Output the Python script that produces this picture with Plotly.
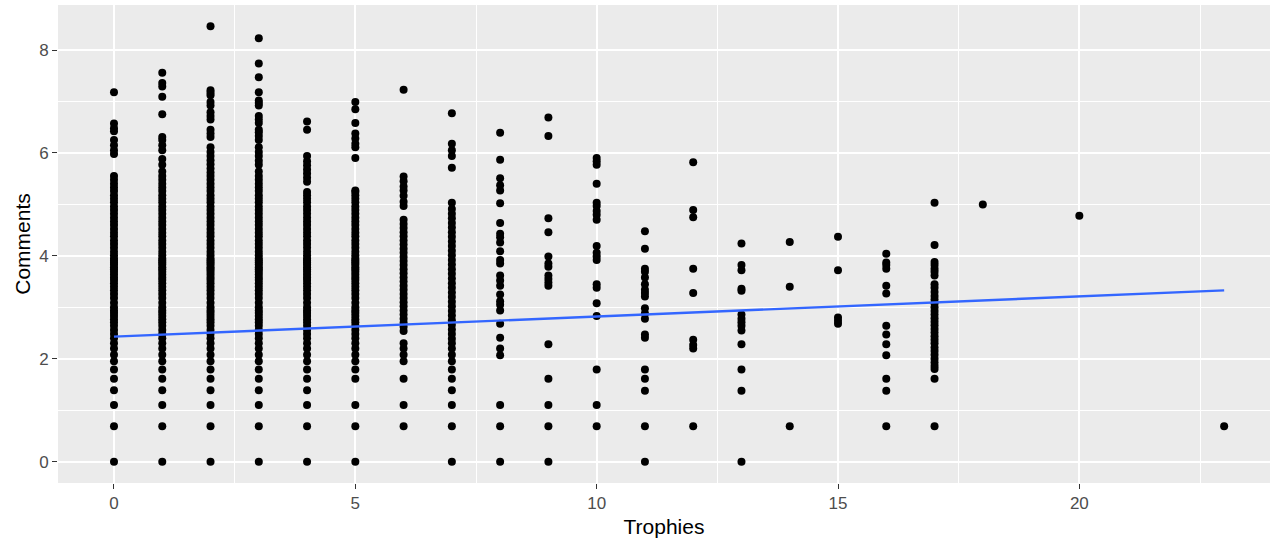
import plotly.graph_objects as go

# Trophies received (x) and log-scaled comment counts (y), one list per trophy level
trophy_levels = [0, 1, 2, 3, 4, 5, 6, 7, 8, 9, 10, 11, 12, 13, 14, 15, 16, 17, 18, 20, 23]

comments_t0 = [0, 0.69, 1.10, 1.39, 1.61, 1.79, 1.95, 2.08, 2.20, 2.30, 2.40, 2.48, 2.56, 2.64,
               2.71, 2.77, 2.83, 2.89, 2.94, 3.00, 3.09, 3.18, 3.26, 3.33, 3.40, 3.47, 3.53, 3.58,
               3.64, 3.69, 3.74, 3.78, 3.83, 3.87, 3.91, 3.95, 4.01, 4.08, 4.16, 4.23, 4.30, 4.38,
               4.45, 4.52, 4.60, 4.67, 4.74, 4.82, 4.89, 4.96, 5.04, 5.11, 5.18, 5.26, 5.33, 5.40,
               5.48, 5.55, 5.98, 6.05, 6.15, 6.25, 6.42, 6.48, 6.57, 7.18]
comments_t1 = [0, 0.69, 1.10, 1.39, 1.61, 1.79, 1.95, 2.08, 2.20, 2.30, 2.40, 2.48, 2.56, 2.64,
               2.71, 2.77, 2.83, 2.89, 2.94, 3.00, 3.09, 3.18, 3.26, 3.33, 3.40, 3.47, 3.53, 3.58,
               3.64, 3.69, 3.74, 3.78, 3.83, 3.87, 3.91, 3.95, 4.01, 4.08, 4.16, 4.23, 4.30, 4.38,
               4.45, 4.52, 4.60, 4.67, 4.74, 4.82, 4.89, 4.96, 5.04, 5.11, 5.18, 5.26, 5.33, 5.40,
               5.48, 5.55, 5.64, 5.77, 5.88, 6.05, 6.15, 6.25, 6.31, 6.75, 7.09, 7.29, 7.36, 7.56]
comments_t2 = [0, 0.69, 1.10, 1.39, 1.61, 1.79, 1.95, 2.08, 2.20, 2.30, 2.40, 2.48, 2.56, 2.64,
               2.71, 2.77, 2.83, 2.89, 2.94, 3.00, 3.09, 3.18, 3.26, 3.33, 3.40, 3.47, 3.53, 3.58,
               3.64, 3.69, 3.74, 3.78, 3.83, 3.87, 3.91, 3.95, 4.01, 4.08, 4.16, 4.23, 4.30, 4.38,
               4.45, 4.52, 4.60, 4.67, 4.74, 4.82, 4.89, 4.96, 5.04, 5.11, 5.18, 5.26, 5.33, 5.40,
               5.48, 5.55, 5.62, 5.70, 5.78, 5.86, 5.94, 6.02, 6.11, 6.31, 6.38, 6.45, 6.65, 6.72,
               6.79, 6.92, 6.99, 7.12, 7.17, 7.22, 8.46]
comments_t3 = [0, 0.69, 1.10, 1.39, 1.61, 1.79, 1.95, 2.08, 2.20, 2.30, 2.40, 2.48, 2.56, 2.64,
               2.71, 2.77, 2.83, 2.89, 2.94, 3.00, 3.09, 3.18, 3.26, 3.33, 3.40, 3.47, 3.53, 3.58,
               3.64, 3.69, 3.74, 3.78, 3.83, 3.87, 3.91, 3.95, 4.01, 4.08, 4.16, 4.23, 4.30, 4.38,
               4.45, 4.52, 4.60, 4.67, 4.74, 4.82, 4.89, 4.96, 5.04, 5.11, 5.18, 5.26, 5.33, 5.40,
               5.48, 5.55, 5.64, 5.77, 5.85, 5.94, 6.02, 6.11, 6.25, 6.33, 6.40, 6.45, 6.58, 6.65,
               6.72, 6.92, 6.97, 7.02, 7.18, 7.47, 7.74, 8.23]
comments_t4 = [0, 0.69, 1.10, 1.39, 1.61, 1.79, 1.95, 2.08, 2.20, 2.30, 2.40, 2.48, 2.56, 2.64,
               2.71, 2.77, 2.83, 2.89, 2.94, 3.00, 3.09, 3.18, 3.26, 3.33, 3.40, 3.47, 3.53, 3.58,
               3.64, 3.69, 3.74, 3.78, 3.83, 3.87, 3.91, 3.95, 4.01, 4.08, 4.16, 4.23, 4.30, 4.38,
               4.45, 4.52, 4.60, 4.67, 4.74, 4.82, 4.89, 4.96, 5.04, 5.11, 5.18, 5.24, 5.44, 5.52,
               5.60, 5.68, 5.76, 5.84, 5.94, 6.45, 6.61]
comments_t5 = [0, 0.69, 1.10, 1.61, 1.79, 1.95, 2.08, 2.20, 2.30, 2.40, 2.48, 2.56, 2.64,
               2.71, 2.77, 2.83, 2.89, 2.94, 3.00, 3.09, 3.18, 3.26, 3.33, 3.40, 3.47, 3.53, 3.58,
               3.64, 3.69, 3.74, 3.78, 3.83, 3.87, 3.91, 3.95, 4.01, 4.08, 4.16, 4.23, 4.30, 4.38,
               4.45, 4.52, 4.60, 4.67, 4.74, 4.82, 4.89, 4.96, 5.04, 5.11, 5.18, 5.24, 5.27, 5.90,
               6.11, 6.18, 6.28, 6.38, 6.58, 6.85, 6.99]
comments_t6 = [0.69, 1.10, 1.61, 1.95, 2.08, 2.20, 2.30, 2.54, 2.62, 2.70, 2.78, 2.86, 2.94,
               3.02, 3.10, 3.18, 3.26, 3.34, 3.42, 3.50, 3.58, 3.66, 3.74, 3.82, 3.90, 3.98, 4.06,
               4.14, 4.22, 4.30, 4.38, 4.46, 4.54, 4.62, 4.70, 4.97, 5.05, 5.17, 5.27, 5.35, 5.45,
               5.54, 7.23]
comments_t7 = [0, 0.69, 1.10, 1.39, 1.61, 1.79, 1.95, 2.08, 2.20, 2.30, 2.39, 2.48, 2.57, 2.66,
               2.75, 2.84, 2.93, 3.02, 3.11, 3.20, 3.29, 3.38, 3.47, 3.56, 3.65, 3.74, 3.83, 3.92,
               4.01, 4.10, 4.19, 4.28, 4.37, 4.46, 4.55, 4.64, 4.73, 4.82, 4.91, 5.03, 5.71, 5.94,
               6.05, 6.18, 6.77]
comments_t8 = [0, 0.69, 1.10, 2.07, 2.20, 2.41, 2.68, 2.94, 3.05, 3.12, 3.25, 3.42, 3.52, 3.62,
               3.85, 3.92, 4.09, 4.26, 4.36, 4.43, 4.64, 5.02, 5.27, 5.37, 5.51, 5.87, 6.39]
comments_t9 = [0, 0.69, 1.10, 1.61, 2.28, 3.42, 3.48, 3.55, 3.62, 3.79, 3.85, 3.99, 4.46, 4.73,
               6.33, 6.69]
comments_t10 = [0.69, 1.10, 1.79, 2.83, 3.08, 3.38, 3.45, 3.92, 3.99, 4.06, 4.19, 4.70, 4.80,
                4.87, 4.97, 5.03, 5.40, 5.77, 5.84, 5.90]
comments_t11 = [0, 0.69, 1.38, 1.61, 1.79, 2.41, 2.47, 2.78, 2.88, 2.98, 3.21, 3.28, 3.34, 3.45,
                3.58, 3.69, 3.75, 4.14, 4.48]
comments_t12 = [0.69, 2.20, 2.27, 2.37, 3.28, 3.75, 4.75, 4.89, 5.82]
comments_t13 = [0, 1.38, 1.79, 2.28, 2.55, 2.64, 2.71, 2.78, 2.86, 3.32, 3.36, 3.72, 3.82, 4.24]
comments_t14 = [0.69, 3.40, 4.27]
comments_t15 = [2.68, 2.74, 2.80, 3.72, 4.37]
comments_t16 = [0.69, 1.38, 1.61, 2.07, 2.28, 2.47, 2.64, 3.27, 3.42, 3.75, 3.82, 3.87, 4.04]
comments_t17 = [0.69, 1.61, 1.80, 1.86, 1.93, 2.00, 2.08, 2.15, 2.22, 2.30, 2.37, 2.44, 2.51,
                2.58, 2.65, 2.72, 2.79, 2.86, 2.93, 3.00, 3.08, 3.15, 3.22, 3.30, 3.38, 3.45,
                3.62, 3.69, 3.75, 3.82, 3.88, 4.21, 5.03]
comments_t18 = [5.00]
comments_t20 = [4.78]
comments_t23 = [0.69]

comment_groups = [comments_t0, comments_t1, comments_t2, comments_t3, comments_t4, comments_t5,
                  comments_t6, comments_t7, comments_t8, comments_t9, comments_t10, comments_t11,
                  comments_t12, comments_t13, comments_t14, comments_t15, comments_t16,
                  comments_t17, comments_t18, comments_t20, comments_t23]

# Fitted linear trend (endpoints of the regression line)
fit_x = [0, 23]
fit_y = [2.43, 3.33]

xs, ys = [], []
for level, vals in zip(trophy_levels, comment_groups):
    xs.extend([level] * len(vals))
    ys.extend(vals)

fig = go.Figure()
fig.add_trace(go.Scatter(
    x=xs, y=ys, mode="markers",
    marker=dict(color="black", size=8, line=dict(width=0)),
    hoverinfo="skip", showlegend=False,
))
fig.add_trace(go.Scatter(
    x=fit_x, y=fit_y, mode="lines",
    line=dict(color="#3366FF", width=2.4),
    hoverinfo="skip", showlegend=False,
))

font_family = "Liberation Sans, Arial, sans-serif"
axis_common = dict(
    showgrid=True, gridcolor="white", gridwidth=2,
    zeroline=False, showline=False,
    ticks="outside", ticklen=5, tickwidth=1.2, tickcolor="#333333",
    tickfont=dict(family=font_family, size=17, color="#4D4D4D"),
)

fig.update_layout(
    width=1270, height=541,
    margin=dict(l=58, r=0, t=5, b=58),
    paper_bgcolor="white", plot_bgcolor="#EBEBEB",
    font=dict(family=font_family),
    xaxis=dict(
        range=[-1.16, 23.95], tickvals=[0, 5, 10, 15, 20],
        minor=dict(tickvals=[2.5, 7.5, 12.5, 17.5, 22.5], showgrid=True,
                   gridcolor="white", gridwidth=1.2, ticks=""),
        title=dict(text="Trophies", font=dict(family=font_family, size=21, color="black"),
                   standoff=6),
        **axis_common,
    ),
    yaxis=dict(
        range=[-0.414, 8.875], tickvals=[0, 2, 4, 6, 8],
        minor=dict(tickvals=[1, 3, 5, 7], showgrid=True,
                   gridcolor="white", gridwidth=1.2, ticks=""),
        title=dict(text="Comments", font=dict(family=font_family, size=21, color="black"),
                   standoff=2),
        **axis_common,
    ),
)

fig.write_html("out.html")
